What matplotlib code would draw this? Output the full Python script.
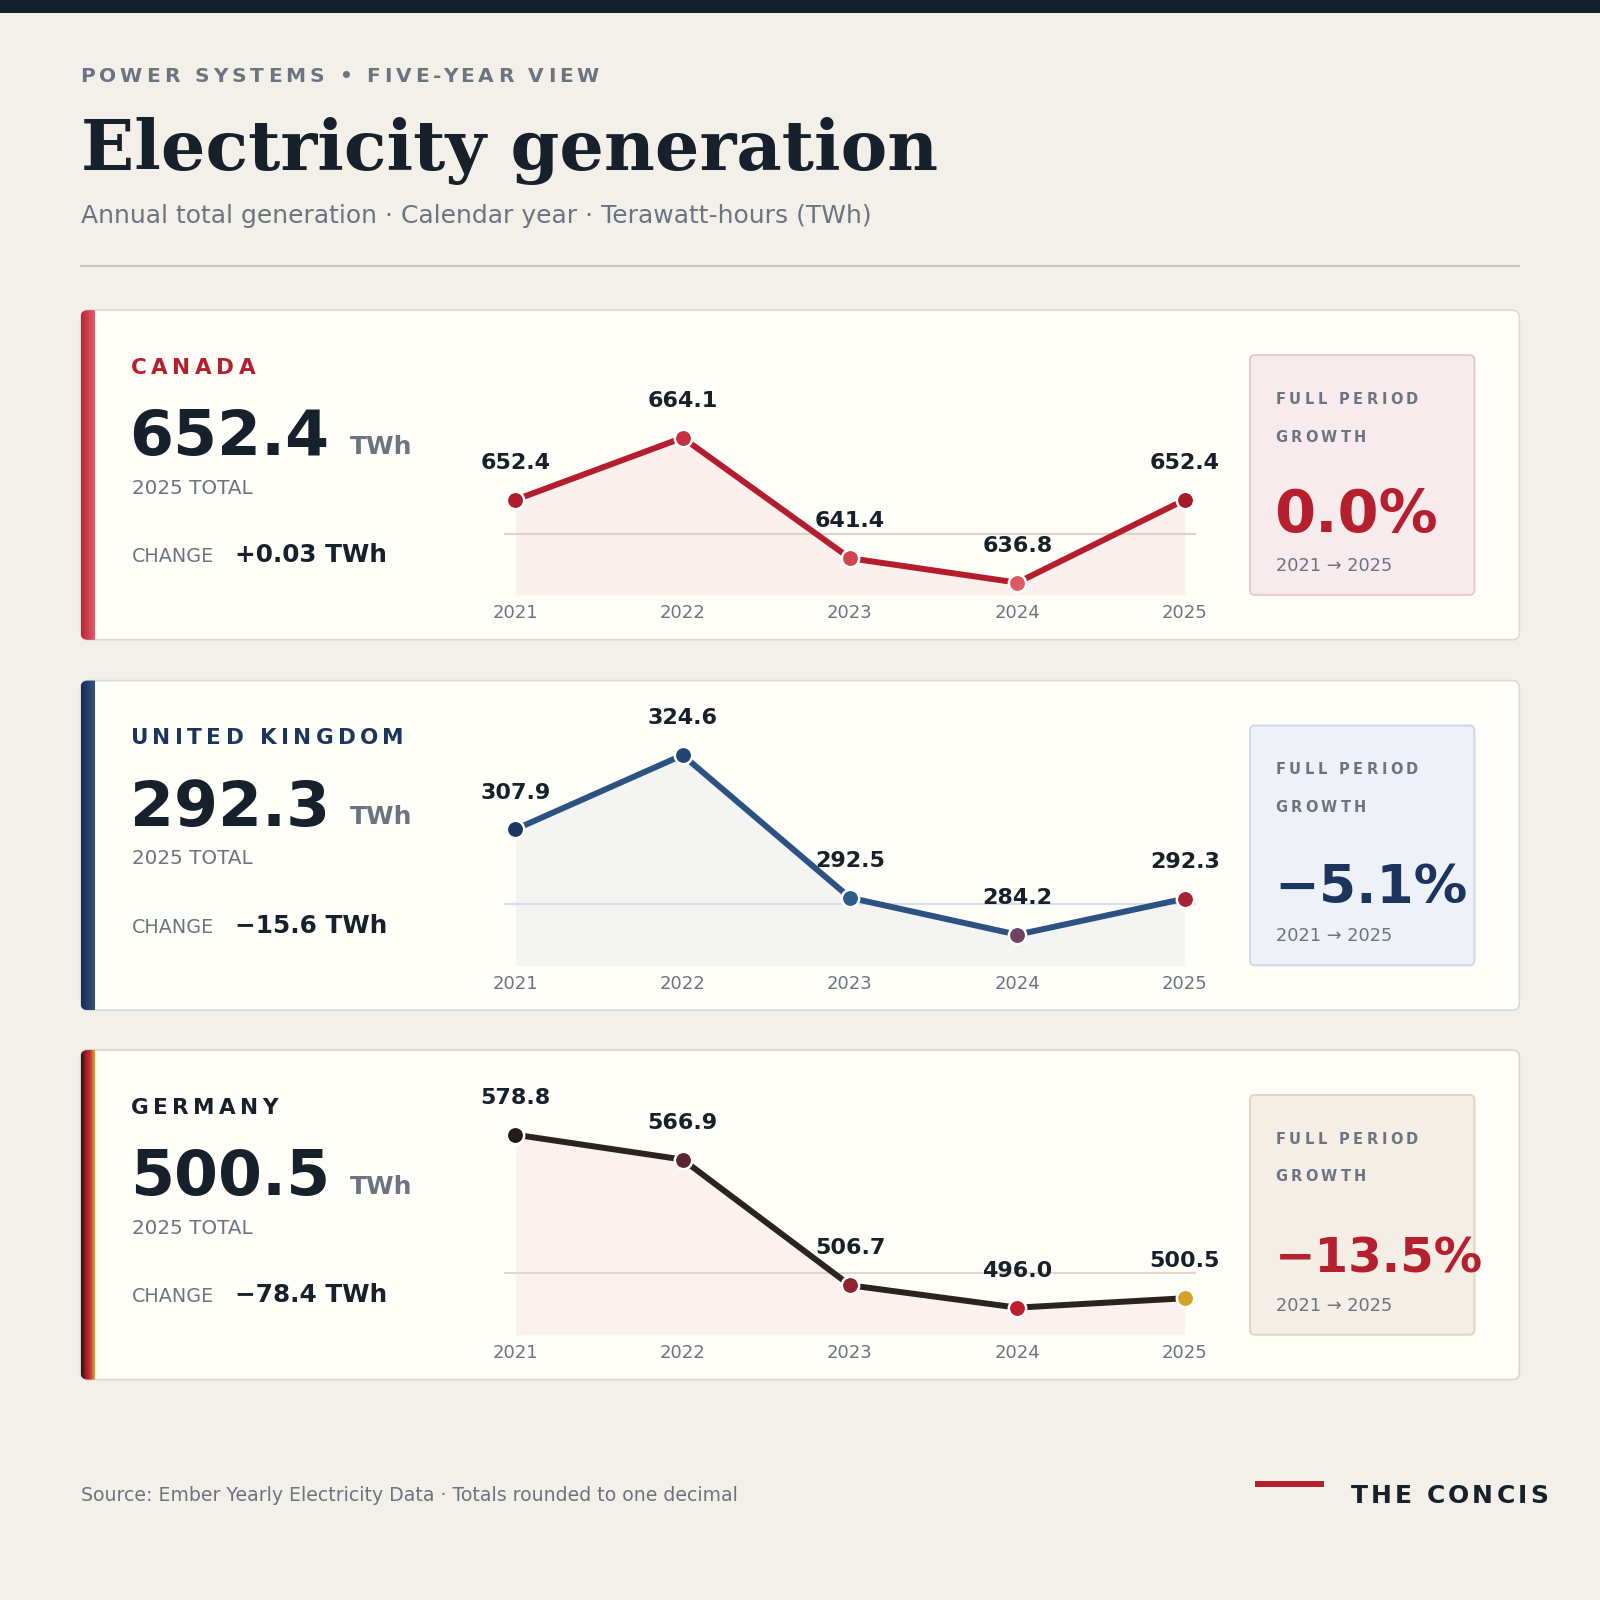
import matplotlib
matplotlib.use('Agg')
import matplotlib.pyplot as plt
import numpy as np
from matplotlib.patches import FancyBboxPatch, Rectangle
from matplotlib.colors import LinearSegmentedColormap
from matplotlib.font_manager import FontProperties
from matplotlib.transforms import blended_transform_factory

# ---- data ----
years = [2021, 2022, 2023, 2024, 2025]
canada = [652.4, 664.1, 641.4, 636.8, 652.4]
uk = [307.9, 324.6, 292.5, 284.2, 292.3]
germany = [578.8, 566.9, 506.7, 496.0, 500.5]
countries = ['CANADA', 'UNITED KINGDOM', 'GERMANY']
totals = ['652.4', '292.3', '500.5']
changes = ['+0.03 TWh', '\u221215.6 TWh', '\u221278.4 TWh']
growth = ['0.0%', '\u22125.1%', '\u221213.5%']
series = [canada, uk, germany]

# ---- style ----
BG = '#f3f0ea'
DARK = '#17212b'
GRAY = '#6b7480'
RED = '#b51f2e'
NAVY = '#1c355e'

cards = [
    dict(top=304, name_c=RED, stripe=['#bd2537', '#e25a66'], border='#dfdbd3',
         line='#b31d2e', fill='#fbf0ed', rule='#ddd3c9',
         dots=['#b01c2e', '#c8303f', '#d0464f', '#dc5a63', '#a8192b'],
         box_fc='#f7ebed', box_ec='#e6c9cd', g_c=RED, g_size=42.5,
         ylim=(634.49, 676.6)),
    dict(top=667, name_c=NAVY, stripe=['#182e52', '#34527e'], border='#d5dae3',
         line='#2c5282', fill='#f4f4f2', rule='#d9dde5',
         dots=['#1b3862', '#234774', '#2f5a8a', '#6e4460', '#a52535'],
         box_fc='#eef2f8', box_ec='#cfd8e6', g_c=NAVY, g_size=38.5,
         ylim=(277.31, 327.58)),
    dict(top=1029, name_c=DARK, stripe=['#1c1415', '#9a1c2c', '#cc3036', '#e4a332'],
         border='#dcd6cc', line='#2a2320', fill='#fbf1ee', rule='#e2d7cc',
         dots=['#231a19', '#5a2730', '#8d2431', '#bf1e2e', '#d4a228'],
         box_fc='#f5eee7', box_ec='#e0d4c4', g_c=RED, g_size=34.8,
         ylim=(483.05, 590.04)),
]

W = 1568.0          # design units
S = 1600.0 / W      # pixels per design unit

fig = plt.figure(figsize=(16, 16), dpi=100, facecolor=BG)
bg = fig.add_axes([0, 0, 1, 1])
bg.set_xlim(0, W)
bg.set_ylim(W, 0)
bg.set_autoscale_on(False)
bg.axis('off')
renderer = fig.canvas.get_renderer()


def fx(x):
    return x / W


def fy(y):
    return 1 - y / W


def tw(s, fp):
    # width of s in design units, incl. trailing spaces
    a = renderer.get_text_width_height_descent(s + 'X', fp, ismath=False)[0]
    b = renderer.get_text_width_height_descent('X', fp, ismath=False)[0]
    return (a - b) / S


def spaced(x, y, s, size, color, right, weight='bold'):
    # letter-spaced text, stretched so it ends at `right`
    fp = FontProperties(family='DejaVu Sans', weight=weight, size=size)
    natural = renderer.get_text_width_height_descent(s, fp, ismath=False)[0] / S
    track = (right - x - natural) / (len(s) - 1)
    for i, ch in enumerate(s):
        if ch == ' ':
            continue
        bg.text(x + tw(s[:i], fp) + i * track, y, ch, fontproperties=fp,
                color=color, ha='left', va='baseline', zorder=3)


# ---- header ----
bg.add_patch(Rectangle((0, 0), W, 13, color=DARK, lw=0))
spaced(79, 80, 'POWER SYSTEMS \u2022 FIVE-YEAR VIEW', 14.5, GRAY, 587)
bg.text(79, 166.6, 'Electricity generation', family='DejaVu Serif', weight='bold',
        fontsize=50.4, color=DARK, va='baseline')
bg.text(79, 219, 'Annual total generation \u00b7 Calendar year \u00b7 Terawatt-hours (TWh)',
        fontsize=18, color=GRAY, va='baseline')
bg.plot([79, 1489], [260.5, 260.5], color='#cdc6ba', lw=1.5)

# ---- cards ----
for k, c in enumerate(cards):
    T = c['top']
    card = FancyBboxPatch((79, T), 1410, 323, boxstyle='round,pad=0,rounding_size=7',
                          fc='#fefdf8', ec=c['border'], lw=1.2, zorder=1)
    bg.add_patch(card)
    cmap = LinearSegmentedColormap.from_list('s%d' % k, c['stripe'])
    im = bg.imshow(np.linspace(0, 1, 64)[None, :], extent=(79, 92.5, T + 323, T),
                   aspect='auto', cmap=cmap, zorder=2, interpolation='bilinear')
    im.set_clip_path(card)

    # left block
    spaced(128, T + 62.5, countries[k], 15.5, c['name_c'], [250, 396, 272][k])
    bg.text(127, T + 142, totals[k], fontsize=45.5, weight='bold', color=DARK,
            va='baseline', zorder=3)
    bg.text(343, T + 141, 'TWh', fontsize=18, weight='bold', color=GRAY,
            va='baseline', zorder=3)
    bg.text(129, T + 180, '2025 TOTAL', fontsize=14.3, color=GRAY, va='baseline', zorder=3)
    bg.text(129, T + 247, 'CHANGE', fontsize=13.8, color=GRAY, va='baseline', zorder=3)
    bg.text(230, T + 247, changes[k], fontsize=17.8, weight='bold', color=DARK,
            va='baseline', zorder=3)

    # growth box
    bg.add_patch(FancyBboxPatch((1225, T + 44), 220, 235,
                                boxstyle='round,pad=0,rounding_size=5',
                                fc=c['box_fc'], ec=c['box_ec'], lw=1.4, zorder=2))
    spaced(1250, T + 92, 'FULL PERIOD', 10.5, GRAY, 1390)
    spaced(1250, T + 128.8, 'GROWTH', 10.5, GRAY, 1339)
    bg.text(1249, T + 217.7, growth[k], fontsize=c['g_size'], weight='bold',
            color=c['g_c'], va='baseline', zorder=3)
    bg.text(1250, T + 255.3, '2021 \u2192 2025', fontsize=12.8, color=GRAY,
            va='baseline', zorder=3)

    # chart
    vals = series[k]
    ax = fig.add_axes([fx(505), fy(T + 279), fx(1161) - fx(505), 219 / W])
    ax.set_xlim(2021, 2025)
    ax.set_ylim(*c['ylim'])
    ax.axis('off')
    lo = c['ylim'][0]
    ax.fill_between(years, vals, lo, color=c['fill'], lw=0, zorder=1)
    ax.plot([-0.0152, 1.0152], [0.274, 0.274], transform=ax.transAxes,
            color=c['rule'], lw=1.5, zorder=2, clip_on=False)
    ax.plot(years, vals, color=c['line'], lw=4.3, zorder=3,
            solid_joinstyle='round', solid_capstyle='round', clip_on=False)
    for yr, v, dc in zip(years, vals, c['dots']):
        ax.plot(yr, v, 'o', ms=12.5, mfc=dc, mec='white', mew=1.8, zorder=4,
                clip_on=False)
        ax.annotate('%.1f' % v, (yr, v), xytext=(0, 26.5), textcoords='offset points',
                    ha='center', va='center', fontsize=16, weight='bold', color=DARK,
                    annotation_clip=False)
    tr = blended_transform_factory(ax.transData, ax.transAxes)
    for yr in years:
        ax.text(yr, -0.082, str(yr), transform=tr, ha='center', va='center',
                fontsize=13, color=GRAY)

# ---- footer ----
bg.text(79, 1471, 'Source: Ember Yearly Electricity Data \u00b7 Totals rounded to one decimal',
        fontsize=13.6, color=GRAY, va='baseline')
bg.add_patch(Rectangle((1230, 1451), 68, 6, color=RED, lw=0))
spaced(1324, 1472.6, 'THE CONCIS', 18, DARK, 1517)

fig.savefig('out.png', dpi=100, facecolor=BG)
